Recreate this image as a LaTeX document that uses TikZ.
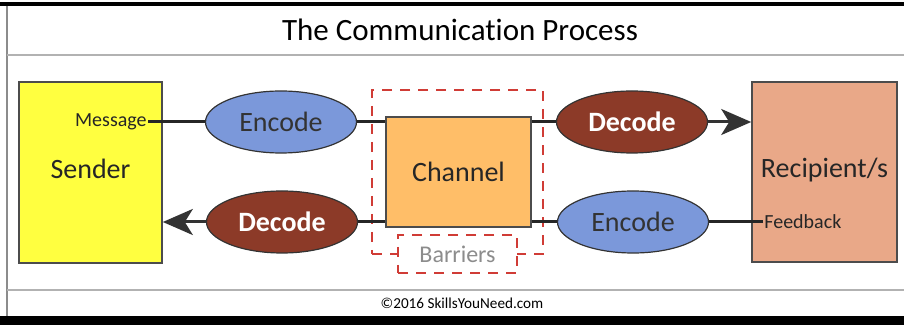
\documentclass[tikz,border=0pt]{standalone}
\usepackage{fontspec}
\setmainfont{Carlito}[Ligatures=NoCommon]
\usepackage{tikz}
\usetikzlibrary{arrows.meta}
\usetikzlibrary{positioning,shapes.geometric}
\definecolor{sndyellow}{HTML}{FFFF40}
\definecolor{rcpsalmon}{HTML}{E9A888}
\definecolor{chanorange}{HTML}{FFBE68}
\definecolor{encblue}{HTML}{7B98DA}
\definecolor{decbrown}{HTML}{8C3A28}
\definecolor{barred}{HTML}{D03C36}
\tikzset{
  party/.style={
    rectangle,
    draw=black!70, line width=0.8pt,
    text=black!85,
    font=\fontsize{14}{16}\selectfont,
  },
  coder/.style={
    ellipse,
    draw=black!80, line width=0.6pt,
    minimum width=75.5pt, minimum height=31pt,
    inner sep=0pt,
  },
  enc/.style={coder, fill=encblue, text=black!80, font=\fontsize{14}{16}\selectfont},
  dec/.style={coder, fill=decbrown, text=white, font=\fontsize{14}{16}\selectfont\bfseries},
  tag/.style={inner sep=0.5pt, text=black!85, font=\fontsize{10}{11}\selectfont},
  wire/.style={draw=black!85, line width=1.5pt},
  barrier/.style={draw=barred, line width=1pt, dash pattern=on 5pt off 4pt},
}

\begin{document}
\begin{tikzpicture}[x=0.5pt,y=-0.5pt,>={Stealth[length=15pt,width=13pt,inset=4pt]}]
  \useasboundingbox (0,0) rectangle (904,325);
  % frame
  \fill[black] (0,2) rectangle (904,6);
  \fill[black] (0,316) rectangle (904,325);
  \draw[black!45, line width=1pt] (7,6) -- (7,316);
  \draw[black!30, line width=1pt] (7,55) -- (904,55);
  \draw[black!30, line width=1pt] (7,290) -- (904,290);
  \node (title) at (460,30) {\fontsize{15.5}{18}\selectfont The Communication Process};
  \node (credit) at (462,303) {\fontsize{7.6}{9}\selectfont ©2016 SkillsYouNeed.com};

  % barriers round the channel
  \node[barrier, minimum width=85.5pt, minimum height=82pt] (zone) at (457.5,172) {};
  \node[barrier, fill=white, minimum width=59.5pt, minimum height=19pt,
        text=black!45, font=\fontsize{12}{14}\selectfont] (bar) at (457.5,254) {Barriers};

  \node[party, fill=sndyellow, minimum width=71.5pt, minimum height=90.5pt,
        text height=10pt, text depth=4pt] (S) at (90.5,172.5) {Sender};
  \node[party, fill=rcpsalmon, minimum width=72.5pt, minimum height=90pt,
        text height=10pt, text depth=4pt] (R) at (824.5,172) {Recipient/s};
  \node[party, fill=chanorange, minimum width=72.5pt, minimum height=55pt] (C) at (458.5,172) {Channel};

  \node[enc] (Enc1) at (281,122) {Encode};
  \node[dec] (Dec1) at (632,122) {Decode};
  \node[dec] (Dec2) at (282,222) {Decode};
  \node[enc] (Enc2) at (633,222) {Encode};

  \node[tag, anchor=east] (msg) at (148,122) {Message};
  \node[tag, anchor=west] (fb) at (763,222) {Feedback};

  % message and feedback paths
  \path (msg.east) edge[wire] (Enc1)
        (Enc1) edge[wire] (Enc1 -| C.west)
        (Dec1 -| C.east) edge[wire] (Dec1)
        (Dec1) edge[wire, ->, black!80] (Dec1 -| R.west);
  \path (fb.west) edge[wire] (Enc2)
        (Enc2) edge[wire] (Enc2 -| C.east)
        (Dec2 -| C.west) edge[wire] (Dec2)
        (Dec2) edge[wire, ->, black!80] (Dec2 -| S.east);
\end{tikzpicture}
\end{document}
